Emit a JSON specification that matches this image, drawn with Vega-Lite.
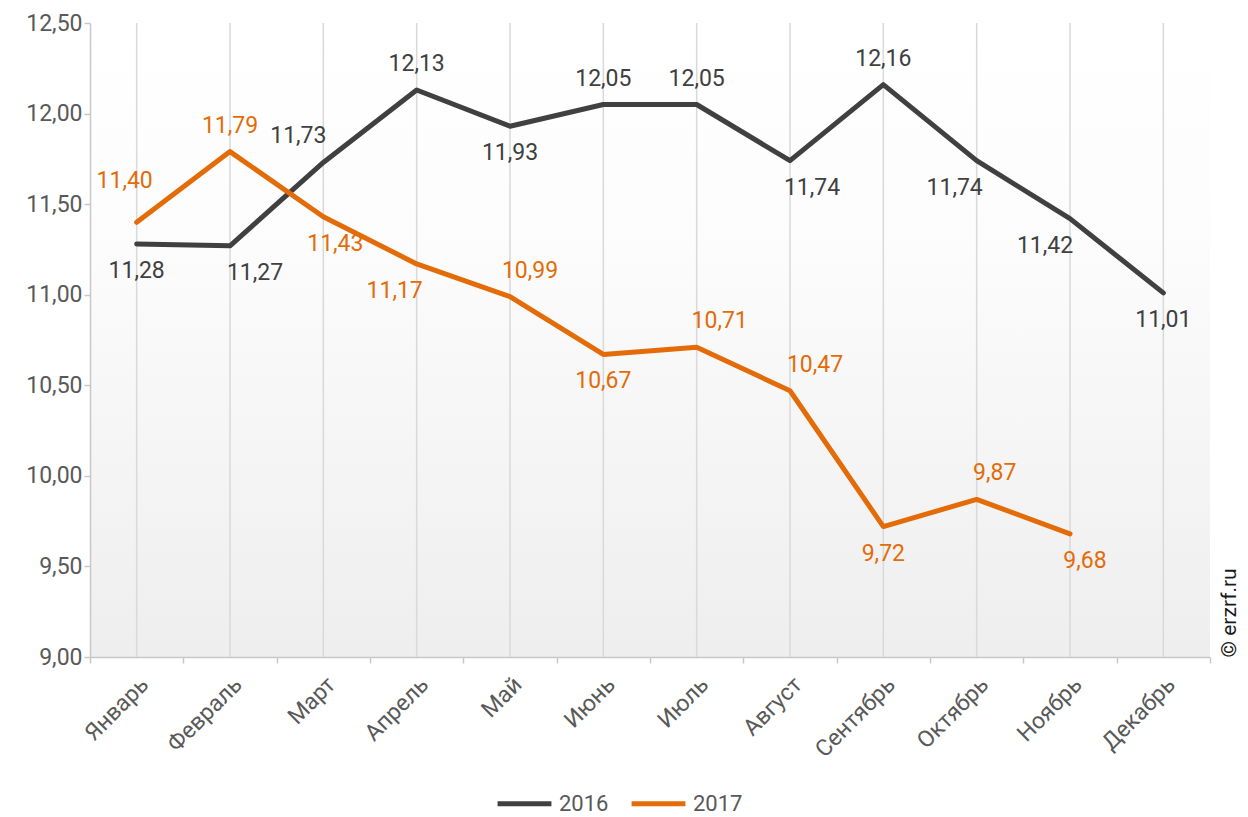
{
  "$schema": "https://vega.github.io/schema/vega-lite/v6.json",
  "width": 1120,
  "height": 634,
  "autosize": "none",
  "padding": {"left": 90, "top": 23, "right": 38, "bottom": 160},
  "background": "#ffffff",
  "config": {
    "font": "Roboto",
    "locale": {"number": {"decimal": ",", "thousands": " ", "grouping": [3], "currency": ["", " ₽"]}},
    "view": {"stroke": null, "fill": {"gradient": "linear", "x1": 0, "y1": 0, "x2": 0, "y2": 1, "stops": [{"offset": 0, "color": "#ffffff"}, {"offset": 0.35, "color": "#fcfcfc"}, {"offset": 1, "color": "#eeeeee"}]}}
  },
  "data": {"values": [
    {"month": "Январь", "year": "2016", "value": 11.28},
    {"month": "Февраль", "year": "2016", "value": 11.27},
    {"month": "Март", "year": "2016", "value": 11.73},
    {"month": "Апрель", "year": "2016", "value": 12.13},
    {"month": "Май", "year": "2016", "value": 11.93},
    {"month": "Июнь", "year": "2016", "value": 12.05},
    {"month": "Июль", "year": "2016", "value": 12.05},
    {"month": "Август", "year": "2016", "value": 11.74},
    {"month": "Сентябрь", "year": "2016", "value": 12.16},
    {"month": "Октябрь", "year": "2016", "value": 11.74},
    {"month": "Ноябрь", "year": "2016", "value": 11.42},
    {"month": "Декабрь", "year": "2016", "value": 11.01},
    {"month": "Январь", "year": "2017", "value": 11.40},
    {"month": "Февраль", "year": "2017", "value": 11.79},
    {"month": "Март", "year": "2017", "value": 11.43},
    {"month": "Апрель", "year": "2017", "value": 11.17},
    {"month": "Май", "year": "2017", "value": 10.99},
    {"month": "Июнь", "year": "2017", "value": 10.67},
    {"month": "Июль", "year": "2017", "value": 10.71},
    {"month": "Август", "year": "2017", "value": 10.47},
    {"month": "Сентябрь", "year": "2017", "value": 9.72},
    {"month": "Октябрь", "year": "2017", "value": 9.87},
    {"month": "Ноябрь", "year": "2017", "value": 9.68}
  ]},
  "encoding": {
    "x": {
      "field": "month", "type": "ordinal",
      "sort": ["Январь", "Февраль", "Март", "Апрель", "Май", "Июнь", "Июль", "Август", "Сентябрь", "Октябрь", "Ноябрь", "Декабрь"],
      "scale": {"type": "band", "paddingInner": 0, "paddingOuter": 0},
      "axis": {"title": null, "grid": false, "tickBand": "extent", "labelAngle": -45, "labelFontSize": 23, "labelColor": "#595959", "domainColor": "#c8c8c8", "domainWidth": 1.5, "tickColor": "#c8c8c8", "tickWidth": 1.5, "tickSize": 6, "labelPadding": 10}
    }
  },
  "layer": [
    {
      "transform": [{"filter": "datum.year == '2016'"}],
      "mark": {"type": "rule", "color": "#d9d9d9", "strokeWidth": 1.5},
      "encoding": {}
    },
    {
      "mark": {"type": "line", "strokeWidth": 5, "strokeCap": "round", "strokeJoin": "round"},
      "encoding": {
        "y": {"field": "value", "type": "quantitative", "scale": {"domain": [9, 12.5], "zero": false, "nice": false},
          "axis": {"title": null, "orient": "left", "grid": false, "values": [9, 9.5, 10, 10.5, 11, 11.5, 12, 12.5], "format": ".2f", "labelFontSize": 23, "labelColor": "#595959", "domainColor": "#c8c8c8", "domainWidth": 1.5, "tickColor": "#c8c8c8", "tickWidth": 1.5, "tickSize": 6, "labelPadding": 2}},
        "color": {"field": "year", "type": "nominal", "scale": {"domain": ["2016", "2017"], "range": ["#404040", "#E36C09"]},
          "legend": {"title": null, "orient": "none", "legendX": 405, "legendY": 751, "direction": "horizontal", "symbolType": "stroke", "symbolSize": 2900, "symbolStrokeWidth": 5, "labelFontSize": 22, "labelColor": "#595959", "columnPadding": 12, "labelOffset": 5}}
      }
    },
    {
      "mark": {"type": "text", "fontSize": 23, "baseline": "middle", "align": "center",
        "dx": {"expr": "({'2016Февраль': 25, '2016Март': -25, '2016Август': 22, '2016Октябрь': -22, '2016Ноябрь': -25, '2017Январь': -12, '2017Март': 12, '2017Апрель': -22, '2017Май': 20, '2017Июль': 23, '2017Август': 25, '2017Октябрь': 18, '2017Ноябрь': 15})[datum.year + datum.month] || 0"},
        "dy": {"expr": "datum.year + datum.month == '2017Январь' ? -41 : (indexof(['2016Март', '2016Апрель', '2016Июнь', '2016Июль', '2016Сентябрь', '2017Февраль', '2017Май', '2017Июль', '2017Август', '2017Октябрь'], datum.year + datum.month) >= 0 ? -26 : 27)"}
      },
      "encoding": {
        "y": {"field": "value", "type": "quantitative", "axis": null},
        "text": {"field": "value", "type": "quantitative", "format": ".2f"},
        "color": {"field": "year", "type": "nominal", "legend": null}
      }
    },
    {
      "mark": {"type": "line", "opacity": 0},
      "encoding": {
        "y": {"field": "value", "type": "quantitative",
          "axis": {"orient": "right", "title": "© erzrf.ru", "domain": false, "ticks": false, "labels": false, "grid": false, "titleAngle": -90, "titleX": 19, "titleY": 634, "titleAlign": "left", "titleBaseline": "middle", "titleFontSize": 21, "titleFontWeight": "normal", "titleColor": "#1a1a1a"}},
        "detail": {"field": "year", "type": "nominal"}
      }
    }
  ],
  "resolve": {"axis": {"y": "independent"}}
}
